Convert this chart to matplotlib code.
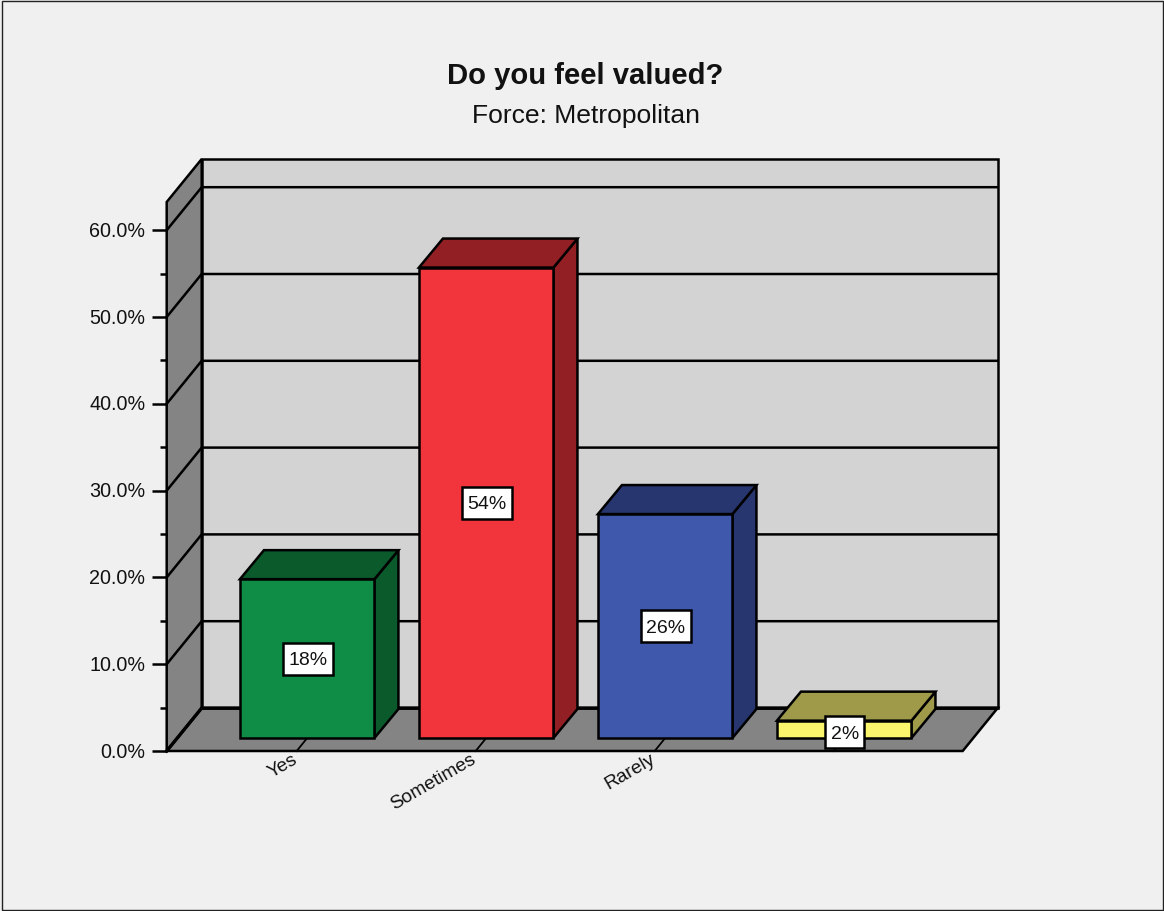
#!/usr/bin/env python3
"""Pseudo-3D bar chart: Do you feel valued? (Force: Metropolitan)."""

import matplotlib

matplotlib.use("Agg")
import matplotlib.pyplot as plt
from matplotlib.patches import Polygon, Rectangle
from matplotlib.transforms import Affine2D, IdentityTransform, offset_copy

categories = ["Yes", "Sometimes", "Rarely", ""]
values = [18.3, 54.2, 25.8, 2.0]
value_labels = ["18%", "54%", "26%", "2%"]
y_major = [0, 10, 20, 30, 40, 50, 60]
y_minor = [5, 15, 25, 35, 45, 55]

front_colors = ["#0F8C46", "#F2343C", "#3F58AB", "#FBF56E"]
side_colors = ["#0A5A2C", "#921F24", "#28366F", "#9E9A49"]

W, H = 1164, 911
DPI = 100
LW = 1.8

plt.rcParams["font.family"] = ["Liberation Sans", "DejaVu Sans"]

fig = plt.figure(figsize=(W / DPI, H / DPI), dpi=DPI, facecolor="#F0F0F0")
fig.patches.append(
    Rectangle((1.5 / W, 1.5 / H), (W - 3) / W, (H - 2.5) / H, transform=fig.transFigure,
              facecolor="none", edgecolor="#222222", linewidth=1.0)
)

# axes box is the front plane of the 3D frame
ax = fig.add_axes([166.7 / W, (H - 751) / H, 796 / W, 549 / H])
ax.patch.set_visible(False)
x0, x1 = -130 / 179, 666 / 179
y1 = 549 / 8.68
ax.set_xlim(x0, x1)
ax.set_ylim(0, y1)
for spine in ax.spines.values():
    spine.set_visible(False)


def depth(dx, dy):
    return offset_copy(ax.transData, fig=fig, x=dx, y=dy, units="dots")


back = depth(35, 43)
bar_front = depth(10.5, 13)
bar_back = depth(34.5, 42)
kw = dict(edgecolor="black", linewidth=LW, joinstyle="miter", clip_on=False)


def face(ax, points, transforms, color, zorder):
    # map every corner to pixels so a face can span two depth planes
    pts = [t.transform(p) for p, t in zip(points, transforms)]
    ax.add_patch(Polygon(pts, closed=True, transform=IdentityTransform(), facecolor=color,
                         zorder=zorder, **kw))


front = ax.transData
# floor and walls
face(ax, [(x0, 0), (x1, 0), (x1, 0), (x0, 0)], [front, front, back, back], "#848484", 1)
face(ax, [(x0, 0), (x0, y1), (x0, y1), (x0, 0)], [front, front, back, back], "#848484", 1)
face(ax, [(x0, 0), (x1, 0), (x1, y1), (x0, y1)], [back] * 4, "#D3D3D3", 1)

for v in y_major:
    pts = [front.transform((x0, v)), back.transform((x0, v)), back.transform((x1, v))]
    ax.plot(*zip(*pts), transform=IdentityTransform(), color="black", lw=2.4 if v == 0 else LW,
            zorder=2, clip_on=False, solid_joinstyle="miter")

# category ticks run back across the floor
for i in range(len(categories)):
    a = front.transform((i, 0))
    b = bar_front.transform((i, 0))
    ax.plot([a[0], b[0]], [a[1], b[1]], transform=IdentityTransform(), color="black",
            lw=1.3, zorder=2, clip_on=False)

bar_width = 134.5 / 179
for i, v in enumerate(values):
    left, right = i - bar_width / 2, i + bar_width / 2
    z = 3 + i
    face(ax, [(right, 0), (right, 0), (right, v), (right, v)],
         [bar_front, bar_back, bar_back, bar_front], side_colors[i], z)
    face(ax, [(left, v), (right, v), (right, v), (left, v)],
         [bar_front, bar_front, bar_back, bar_back], side_colors[i], z)
    face(ax, [(left, 0), (right, 0), (right, v), (left, v)], [bar_front] * 4, front_colors[i], z)

ax.set_yticks(y_major)
ax.set_yticklabels([f"{v:.1f}%" for v in y_major], fontsize=14.2, color="#111111")
ax.set_yticks(y_minor, minor=True)
ax.tick_params(axis="y", which="major", length=15 * 0.72, width=LW, pad=4.5)
ax.tick_params(axis="y", which="minor", length=7 * 0.72, width=LW)
ax.set_xticks(range(len(categories)))
ax.set_xticklabels(categories, fontsize=13.8, rotation=30, ha="right", va="top",
                   rotation_mode="anchor", color="#111111")
ax.tick_params(axis="x", length=0, pad=2)
for label in ax.get_xticklabels():
    label.set_transform(label.get_transform() + Affine2D().translate(-5, 3))
for label in ax.get_yticklabels():
    label.set_transform(label.get_transform() + Affine2D().translate(0, 1))

# value boxes sized around the measured text
renderer = fig.canvas.get_renderer()
for i, v in enumerate(values):
    cx, cy = bar_front.transform((i, v / 2))
    if v < 5:
        cy -= 3
    t = ax.text(cx + 0.5, cy, value_labels[i], transform=IdentityTransform(), fontsize=14,
                ha="center", va="center_baseline", color="#111111", zorder=21, clip_on=False)
    w = t.get_window_extent(renderer).width + 10.5
    ax.add_patch(Rectangle((cx + 0.5 - w / 2, cy - 16), w, 32, transform=IdentityTransform(),
                           facecolor="white", edgecolor="black", linewidth=LW, zorder=20,
                           clip_on=False))

fig.text(585.5 / W, 1 - 76.5 / H, "Do you feel valued?", fontsize=21.05, fontweight="bold",
         ha="center", va="center", color="#111111")
fig.text(586 / W, 1 - 115.5 / H, "Force: Metropolitan", fontsize=19.05, ha="center", va="center",
         color="#111111")

fig.savefig("out.png", dpi=DPI, facecolor=fig.get_facecolor())
plt.close(fig)
